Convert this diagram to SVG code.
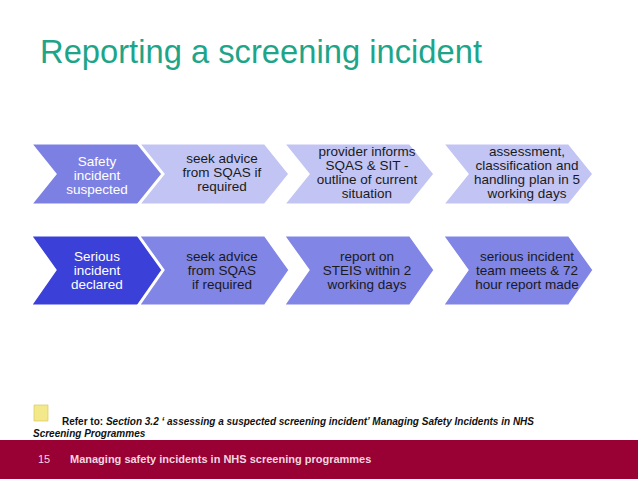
<svg xmlns="http://www.w3.org/2000/svg" width="638" height="479" viewBox="0 0 638 479">
<style>
text{font-family:"Liberation Sans",Arial,sans-serif}
.c{font-size:13.5px;text-anchor:middle}
.w{fill:#ffffff}.k{fill:#1a1a1a}
use{stroke:#ffffff;stroke-width:3;stroke-linejoin:miter}
</style>
<defs>
<path id="r1" d="M0,0 H127 L152,31 L127,62 H0 L25,31 Z"/>
<path id="r2" d="M0,0 H127 L152,35 L127,71 H0 L25,35 Z"/>
</defs>
<rect width="638" height="479" fill="#fff"/>
<text x="40" y="63" font-size="33" fill="#1ea589" textLength="442" lengthAdjust="spacingAndGlyphs">Reporting a screening incident</text>
<g id="n1"><use href="#r1" x="30" y="143" fill="#7c80e2"/><text class="c w" x="97" y="166">Safety</text><text class="c w" x="97" y="180">incident</text><text class="c w" x="97" y="194">suspected</text></g>
<g id="n2"><use href="#r1" x="138" y="143" fill="#c2c5f4"/><text class="c k" x="222" y="163">seek advice</text><text class="c k" x="222" y="177">from SQAS if</text><text class="c k" x="222" y="191">required</text></g>
<g id="n3"><use href="#r1" x="283" y="143" fill="#c2c5f4"/><text class="c k" x="367" y="156">provider informs</text><text class="c k" x="367" y="170">SQAS &amp; SIT -</text><text class="c k" x="367" y="184">outline of current</text><text class="c k" x="367" y="198">situation</text></g>
<g id="n4"><use href="#r1" x="442" y="143" fill="#c2c5f4"/><text class="c k" x="527" y="156">assessment,</text><text class="c k" x="527" y="170">classification and</text><text class="c k" x="527" y="184">handling plan in 5</text><text class="c k" x="527" y="198">working days</text></g>
<g id="n5"><use href="#r2" x="30" y="235" fill="#3b40d8"/><text class="c w" x="97" y="261">Serious</text><text class="c w" x="97" y="275">incident</text><text class="c w" x="97" y="289">declared</text></g>
<g id="n6"><use href="#r2" x="138" y="235" fill="#8085e6"/><text class="c k" x="222" y="261">seek advice</text><text class="c k" x="222" y="275">from SQAS</text><text class="c k" x="222" y="289">if required</text></g>
<g id="n7"><use href="#r2" x="283" y="235" fill="#8085e6"/><text class="c k" x="367" y="261">report on</text><text class="c k" x="367" y="275">STEIS within 2</text><text class="c k" x="367" y="289">working days</text></g>
<g id="n8"><use href="#r2" x="442" y="235" fill="#8085e6"/><text class="c k" x="527" y="261">serious incident</text><text class="c k" x="527" y="275">team meets &amp; 72</text><text class="c k" x="527" y="289">hour report made</text></g>
<g id="connectors"/>
<path d="M34,405 L48,405 L48,421 L34,421 Z" fill="#f3e88a" stroke="#d8c860" stroke-width="0.7"/>
<text x="62" y="425" font-size="10" font-weight="bold" fill="#111">Refer to: <tspan font-style="italic">Section 3.2 ‘ assessing a suspected screening incident’  Managing Safety Incidents in  NHS</tspan></text>
<text x="33" y="437" font-size="10" font-weight="bold" font-style="italic" fill="#111">Screening Programmes</text>
<rect x="0" y="440" width="638" height="39" fill="#990033"/>
<text x="38" y="463" font-size="11" fill="#f3d6e0">15</text>
<text x="70" y="463" font-size="11" font-weight="bold" fill="#f3d6e0">Managing safety incidents in NHS screening programmes</text>
</svg>
